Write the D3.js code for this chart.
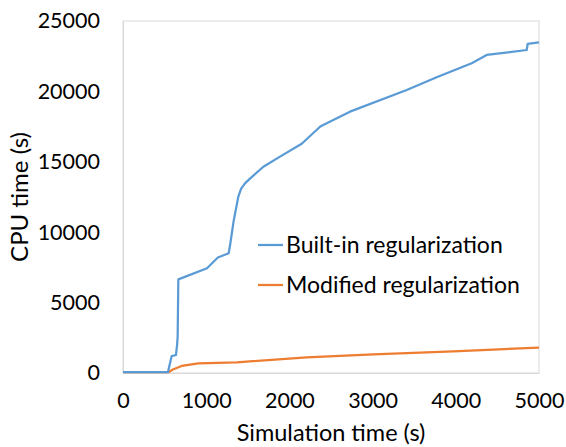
<!DOCTYPE html>
<html>
<head>
<meta charset="utf-8">
<script src="https://cdn.jsdelivr.net/npm/d3@7"></script>
<style>
  body { margin: 0; background: #fff; }
  text { font-family: Lato, "Open Sans", sans-serif; fill: #000; }
</style>
</head>
<body>
<div id="chart"></div>
<script>
// series: simulation time (s) vs CPU time (s)
var builtinTime = [0, 540, 585, 637, 650, 657, 665, 1010, 1140, 1270, 1290, 1330, 1386, 1420, 1466, 1526, 1687, 1887, 2148, 2368, 2388, 2728, 3410, 3770, 4191, 4371, 4852, 4864, 5000];
var builtinCpu  = [60, 60, 1200, 1280, 2000, 2580, 6650, 7440, 8200, 8500, 9200, 10800, 12520, 13100, 13470, 13800, 14650, 15370, 16280, 17490, 17560, 18560, 20100, 21000, 22000, 22590, 22940, 23370, 23480];

var modifiedTime = [0, 545, 600, 705, 905, 1366, 2208, 3008, 3970, 5000];
var modifiedCpu  = [60, 60, 250, 500, 690, 760, 1110, 1330, 1540, 1800];

var xTicks = [0, 1000, 2000, 3000, 4000, 5000];
var yTicks = [0, 5000, 10000, 15000, 20000, 25000];

var seriesNames = ["Built-in regularization", "Modified regularization"];
var colors = ["#5b9bd5", "#ed7d31"];

//size and margins
var W = 566, H = 447;
var margin = {top: 21, right: 27, bottom: 74, left: 123};
var width = W - margin.left - margin.right,
    height = H - margin.top - margin.bottom;

var x = d3.scaleLinear().domain([0, 5000]).range([0, width]);
var y = d3.scaleLinear().domain([0, 25000]).range([height, 0]);

var svg = d3.select("#chart").append("svg")
    .attr("width", W)
    .attr("height", H);

var g = svg.append("g")
    .attr("transform", "translate(" + margin.left + "," + margin.top + ")");

//plot area border
g.append("rect")
    .attr("x", 0).attr("y", 0)
    .attr("width", width).attr("height", height)
    .attr("fill", "none")
    .attr("stroke", "#d9d9d9")
    .attr("stroke-width", 1);

//axes
var xAxis = g.append("g")
    .attr("transform", "translate(0," + height + ")")
    .call(d3.axisBottom(x).tickValues(xTicks).tickSize(0).tickPadding(20).tickFormat(d3.format("d")));
xAxis.select(".domain").attr("stroke", "#d9d9d9");
xAxis.selectAll("text").style("font-size", "21.5px");

var yAxis = g.append("g")
    .call(d3.axisLeft(y).tickValues(yTicks).tickSize(0).tickPadding(23).tickFormat(d3.format("d")));
yAxis.select(".domain").attr("stroke", "#d9d9d9");
yAxis.selectAll("text").style("font-size", "21.5px");

//lines
var line = d3.line()
    .x(function(d) { return x(d[0]); })
    .y(function(d) { return y(d[1]); });

var series = [
    d3.zip(builtinTime, builtinCpu),
    d3.zip(modifiedTime, modifiedCpu)
];

// draw orange under blue
[1, 0].forEach(function(i) {
    g.append("path")
        .datum(series[i])
        .attr("fill", "none")
        .attr("stroke", colors[i])
        .attr("stroke-width", 2.25)
        .attr("stroke-linejoin", "round")
        .attr("d", line);
});

//legend
var legend = g.selectAll(".legend")
    .data(seriesNames)
    .enter().append("g")
    .attr("class", "legend")
    .attr("transform", function(d, i) { return "translate(" + (258 - margin.left) + "," + (245 - margin.top + i * 40) + ")"; });

legend.append("line")
    .attr("x1", 0).attr("x2", 25)
    .attr("stroke", function(d, i) { return colors[i]; })
    .attr("stroke-width", 2.25);

legend.append("text")
    .attr("x", 28)
    .attr("dy", "0.35em")
    .style("font-size", "23px")
    .text(function(d) { return d; });

//axis titles
svg.append("text")
    .attr("x", margin.left + width / 2)
    .attr("y", 441)
    .attr("text-anchor", "middle")
    .style("font-size", "23.5px")
    .text("Simulation time (s)");

svg.append("text")
    .attr("transform", "translate(28," + (margin.top + height / 2) + ") rotate(-90)")
    .attr("text-anchor", "middle")
    .style("font-size", "24px")
    .text("CPU time (s)");
</script>
</body>
</html>
